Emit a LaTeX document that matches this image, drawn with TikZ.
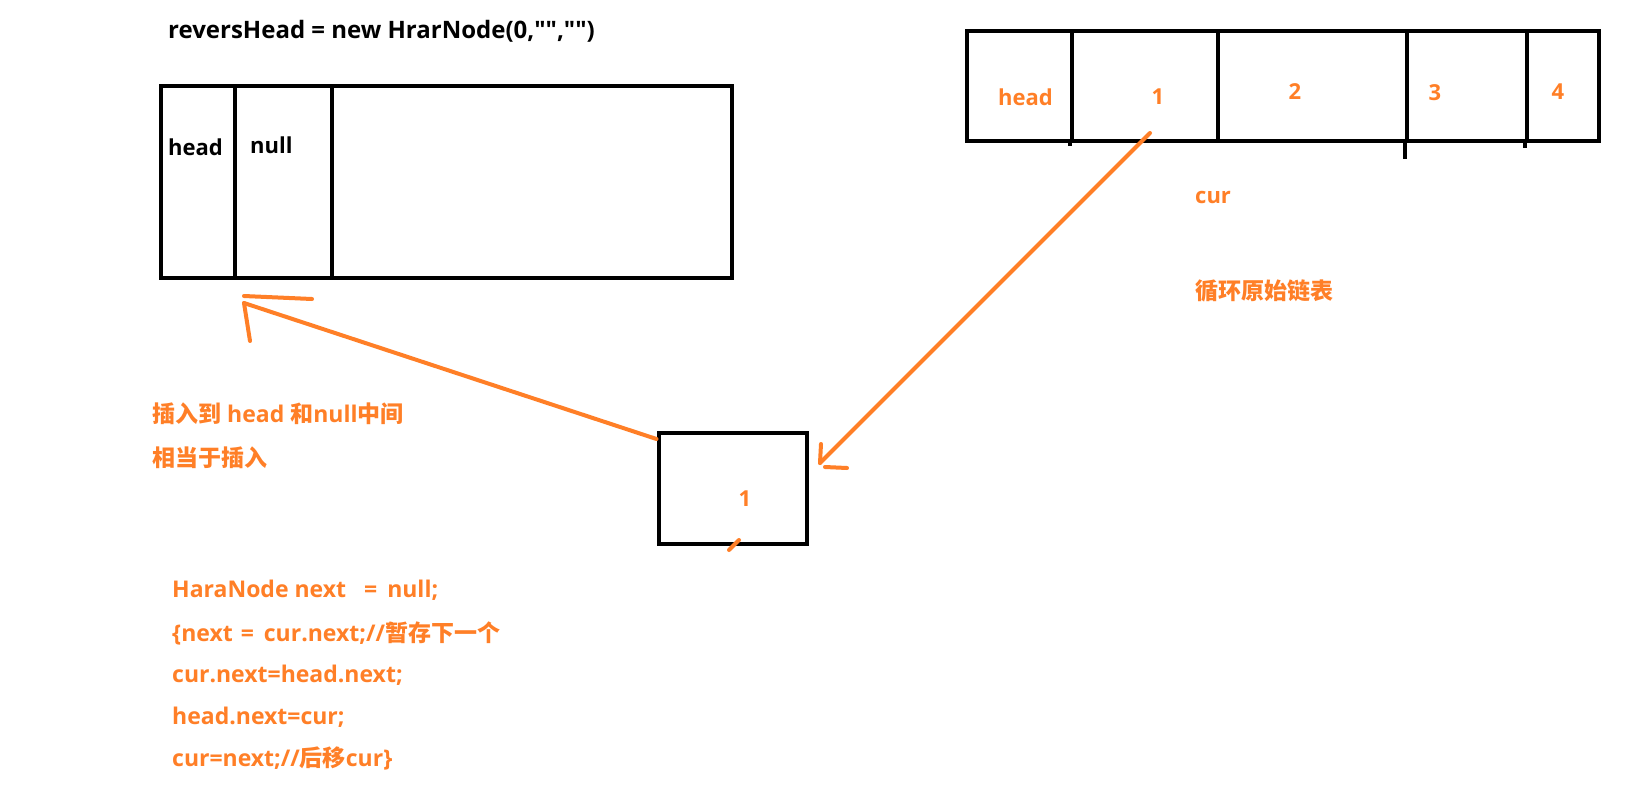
\documentclass[tikz,border=0pt]{standalone}
\usepackage{fontspec}
\setmainfont{Open Sans}[BoldFont={Open Sans Bold}]
\newfontfamily\cjk{Noto Sans CJK SC}
\definecolor{paintorange}{RGB}{255,127,39}
\newcommand{\qq}{\textquotedbl}
\tikzset{
  cell/.style={draw, line width=4pt, inner sep=0pt, anchor=north west},
  lbl/.style={inner sep=0pt, font=\bfseries\fontsize{22}{26}\selectfont},
  olbl/.style={lbl, text=paintorange},
  cjklbl/.style={olbl, anchor=west, font=\bfseries\fontsize{23}{27}\selectfont},
  codeline/.style={olbl, anchor=west, font=\bfseries\fontsize{23}{27}\selectfont},
  stroke/.style={paintorange, line width=4pt, line cap=round},
  tick/.style={line width=4pt},
}
\begin{document}
\begin{tikzpicture}[x=1pt,y=-1pt]
\fill[white] (0,0) rectangle (1647,793);
\useasboundingbox (0,0) rectangle (1647,793);

% reversHead list
\node[lbl, anchor=west, font=\bfseries\fontsize{24}{28}\selectfont] (title) at (168,31.5) {reversHead = new HrarNode(0,\qq\qq,\qq\qq)};
\node[cell, minimum width=74.4pt, minimum height=192pt] (lhead) at (158.6,84) {};
\node[cell, minimum width=97pt, minimum height=192pt] (lnull) at (233,84) {};
\node[cell, minimum width=400pt, minimum height=192pt] (lrest) at (330,84) {};
\node[lbl, anchor=west] (lheadtxt) at (168,147) {head};
\node[lbl, anchor=west] (lnulltxt) at (250,145) {null};

% original list
\node[cell, minimum width=105pt, minimum height=110pt] (rhead) at (965,29) {};
\node[cell, minimum width=146pt, minimum height=110pt] (r1) at (1070,29) {};
\node[cell, minimum width=189pt, minimum height=110pt] (r2) at (1216,29) {};
\node[cell, minimum width=120pt, minimum height=110pt] (r3) at (1405,29) {};
\node[cell, minimum width=72pt, minimum height=110pt] (r4) at (1525,29) {};
\draw[tick] (r1.south west) -- ++(0,3);
\draw[tick] (r3.south west) -- ++(0,16);
\draw[tick] (r4.south west) -- ++(0,5);
\node[olbl, anchor=west] (rheadtxt) at (998,97) {head};
\node[olbl] (r1txt) at (1158,97) {1};
\node[olbl] (r2txt) at (1295,92) {2};
\node[olbl] (r3txt) at (1435,93) {3};
\node[olbl] (r4txt) at (1558,92) {4};
\node[olbl, anchor=west] (curtxt) at (1195,197) {cur};
\node[cjklbl] (looptxt) at (1195,291) {\cjk 循环原始链表};

% moved node
\node[cell, minimum width=148pt, minimum height=111pt] (nb) at (656.5,431) {};
\node[olbl] (nbtxt) at (745,499) {1};
\draw[stroke] ([shift={(6.5,-6)}]nb.south) -- ++(-10,10);

% arrows
\coordinate (curstart) at (1150,133);
\coordinate (curtip) at (820,463);
\draw[stroke] (curstart) -- (curtip);
\draw[stroke] (curtip) -- ++(1,-19);
\draw[stroke] ([shift={(5,4)}]curtip) -- ++(22,1);

\coordinate (instip) at (244,303);
\draw[stroke] ([yshift=-8pt]nb.north west) -- (instip);
\draw[stroke] (instip) -- ++(6,38);
\draw[stroke] ([yshift=7pt]instip) -- ++(68,3);

\node[cjklbl] (instxt) at (152,414) {{\cjk 插入到} head {\cjk 和}null{\cjk 中间}};
\node[cjklbl] (sametxt) at (152,458) {\cjk 相当于插入};

% loop body
\node[codeline] (c1) at (172,590) {HaraNode next\hspace{18pt}=\hspace{10pt}null;};
\node[codeline] (c2) at (172,633) {\{next\hspace{8pt}=\hspace{10pt}cur.next;//{\cjk 暂存下一个}};
\node[codeline] (c3) at (172,675) {cur.next=head.next;};
\node[codeline] (c4) at (172,717) {head.next=cur;};
\node[codeline] (c5) at (172,758) {cur=next;//{\cjk 后移}cur\}};
\end{tikzpicture}
\end{document}
